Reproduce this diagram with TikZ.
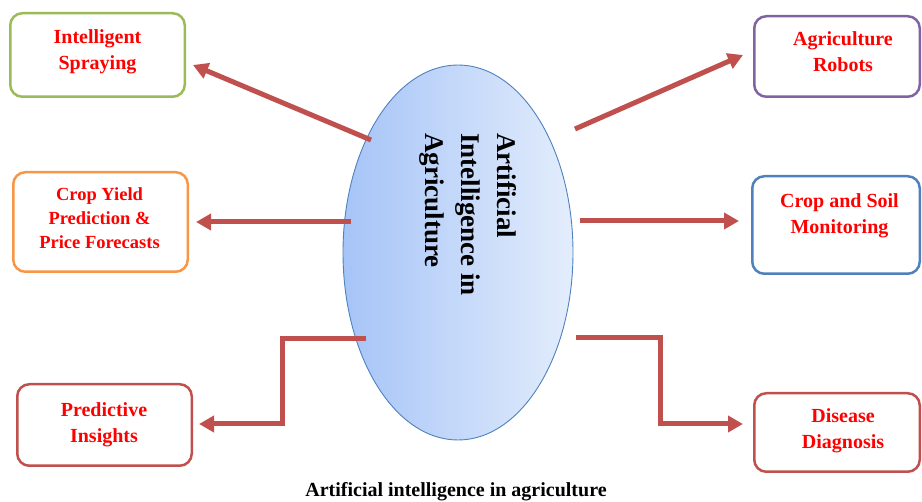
\documentclass[tikz,border=0pt]{standalone}
\usepackage{fontspec}
\setmainfont{Liberation Serif}
\usetikzlibrary{arrows.meta,shapes.geometric}

\definecolor{arrowred}{HTML}{C0504D}
\definecolor{labelred}{HTML}{FF0000}
\definecolor{sprayg}{HTML}{9BBB59}
\definecolor{yieldo}{HTML}{F79646}
\definecolor{robotp}{HTML}{8064A2}
\definecolor{soilb}{HTML}{4F81BD}
\definecolor{ovalleft}{HTML}{A6C4F7}
\definecolor{ovalright}{HTML}{E3EDFC}

\tikzset{
  topicbox/.style={draw, rounded corners=12pt, line width=2.5pt, fill=white, inner sep=0pt},
  topictext/.style={text=labelred, align=center, inner sep=0pt,
    font=\bfseries\fontsize{20}{26}\selectfont},
  conn/.style={draw=arrowred, line width=5pt, line join=miter,
    -{Triangle[length=15pt,width=16pt]}},
}

\begin{document}
\begin{tikzpicture}[x=1pt,y=-1pt]
\clip (0,0) rectangle (922,502);

% central oval
\node[ellipse, draw=soilb, line width=0.9pt, inner sep=0pt,
      minimum width=230pt, minimum height=375pt,
      left color=ovalleft, right color=ovalright] (ai) at (458,252.5) {};
\node[rotate=-90, anchor=north west, inner sep=0pt, align=left,
      font=\bfseries\fontsize{27}{36}\selectfont] (aitext) at (517,133)
  {Artificial\\Intelligence in\\Agriculture};

% left column
\node[topicbox, draw=sprayg, minimum width=174.5pt, minimum height=83.5pt] (spray) at (97.5,55) {};
\node[topictext] (spraytxt) at (97.5,51.9) {Intelligent\\Spraying};

\node[topicbox, draw=yieldo, minimum width=174.5pt, minimum height=99.5pt] (yield) at (100.5,222) {};
\node[topictext, font=\bfseries\fontsize{18.5}{24}\selectfont] (yieldtxt) at (99.5,218.5)
  {Crop Yield\\Prediction \&\\Price Forecasts};

\node[topicbox, draw=arrowred, minimum width=174.5pt, minimum height=81.5pt] (insight) at (104.5,425) {};
\node[topictext] (insighttxt) at (104,425) {Predictive\\Insights};

% right column
\node[topicbox, draw=robotp, minimum width=165.5pt, minimum height=80.5pt] (robot) at (837,56.5) {};
\node[topictext] (robottxt) at (843,51.8) {Agriculture\\Robots};

\node[topicbox, draw=soilb, minimum width=167.5pt, minimum height=97.5pt] (soil) at (836,225) {};
\node[topictext] (soiltxt) at (839.5,215.4) {Crop and Soil\\Monitoring};

\node[topicbox, draw=arrowred, minimum width=165.5pt, minimum height=78.5pt] (disease) at (837,432.5) {};
\node[topictext] (diseasetxt) at (843,430.4) {Disease\\Diagnosis};

% connector end points
\coordinate (s1) at (371,140);  \coordinate (e1) at (193,65);
\coordinate (s2) at (351,222);  \coordinate (e2) at (196,222);
\coordinate (s3) at (366,339);  \coordinate (k3) at (282,339); \coordinate (e3) at (199,424);
\coordinate (s4) at (575,129);  \coordinate (e4) at (743,55);
\coordinate (s5) at (580,221);  \coordinate (e5) at (739,221);
\coordinate (s6) at (576,338);  \coordinate (k6) at (660,338); \coordinate (e6) at (743,424);

\draw[conn] (s1) -- (e1);
\draw[conn] (s2) -- (e2);
\draw[conn] (s3) -- (k3) |- (e3);
\draw[conn] (s4) -- (e4);
\draw[conn] (s5) -- (e5);
\draw[conn] (s6) -- (k6) |- (e6);

% caption
\node[anchor=base, inner sep=0pt, font=\bfseries\fontsize{20}{24}\selectfont] (caption) at (456,497)
  {Artificial intelligence in agriculture};
\end{tikzpicture}
\end{document}
